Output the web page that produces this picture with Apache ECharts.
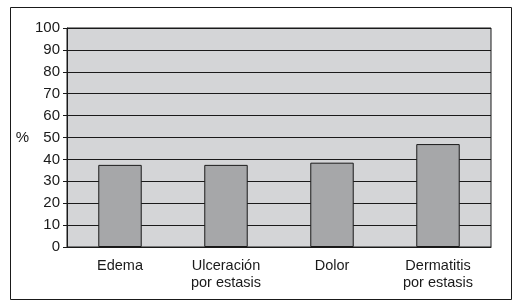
<!DOCTYPE html>
<html>
<head>
<meta charset="utf-8">
<script src="https://cdn.jsdelivr.net/npm/echarts@6/dist/echarts.min.js"></script>
<style>
  html, body { margin: 0; padding: 0; background: #fff; }
  #chart { width: 520px; height: 308px; }
</style>
</head>
<body>
<div id="chart"></div>
<script>
// categorias y valores (%)
var categories = ['Edema', 'Ulceración\npor estasis', 'Dolor', 'Dermatitis\npor estasis'];
var values = [37.5, 37.5, 38.5, 47];

var dom = document.getElementById('chart');
var myChart = echarts.init(dom);
var font = '"Liberation Sans", Arial, sans-serif';

myChart.setOption({
    animation: false,
    backgroundColor: '#fff',
    textStyle: { fontFamily: font },
    grid: {
        left: 67,
        right: 29,
        top: 28,
        bottom: 61,
        show: true,
        backgroundColor: '#d4d5d7',
        borderColor: '#1a1a1a',
        borderWidth: 1
    },
    // marco exterior
    graphic: [{
        type: 'rect',
        shape: { x: 10.5, y: 7.5, width: 501, height: 292 },
        style: { fill: 'none', stroke: '#1a1a1a', lineWidth: 1 },
        silent: true
    }],
    xAxis: {
        type: 'category',
        data: categories,
        axisLine: { show: true, lineStyle: { color: '#1a1a1a' } },
        axisTick: { show: false },
        axisLabel: {
            color: '#1a1a1a',
            fontSize: 14.5,
            lineHeight: 17,
            margin: 10,
            fontFamily: font
        }
    },
    yAxis: {
        type: 'value',
        min: 0,
        max: 100,
        interval: 10,
        name: '%',
        nameLocation: 'middle',
        nameRotate: 0,
        nameGap: 34,
        nameTextStyle: { color: '#1a1a1a', fontSize: 15, fontFamily: font },
        axisLine: { show: true, lineStyle: { color: '#1a1a1a' } },
        axisTick: { show: true, length: 4, lineStyle: { color: '#1a1a1a' } },
        axisLabel: { color: '#1a1a1a', fontSize: 15, margin: 7, fontFamily: font },
        splitLine: { show: true, lineStyle: { color: '#1a1a1a', width: 1 } }
    },
    series: [{
        type: 'bar',
        data: values,
        barWidth: '41%',
        itemStyle: {
            color: '#a6a7a9',
            borderColor: '#1a1a1a',
            borderWidth: 1
        }
    }]
});
window.addEventListener('resize', function () {
    myChart.resize();
});
</script>
</body>
</html>
